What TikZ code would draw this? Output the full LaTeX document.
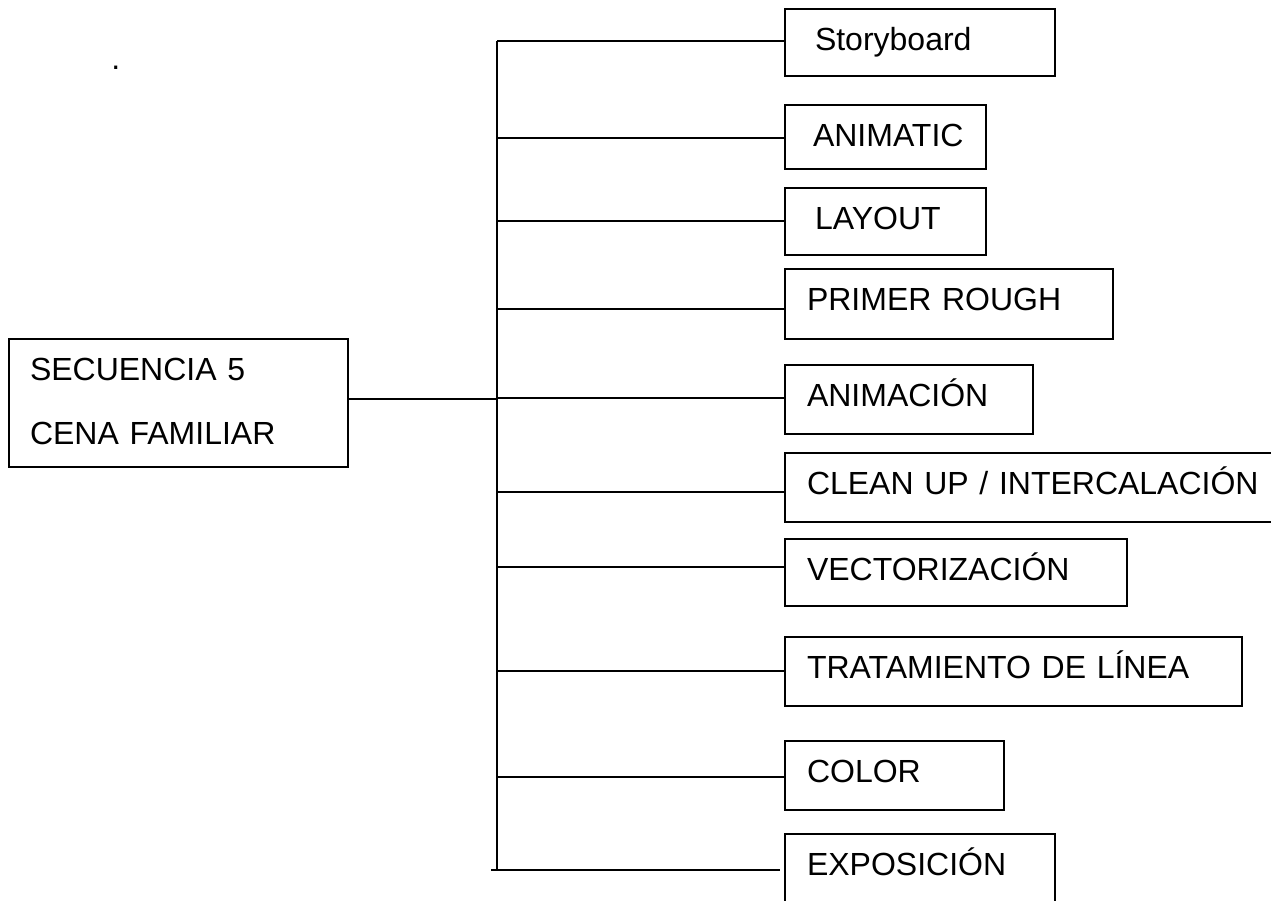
\documentclass[tikz,border=0pt]{standalone}
\usepackage{fontspec}
\setmainfont{Liberation Sans}
\begin{document}
\begin{tikzpicture}[x=0.75pt,y=-0.75pt,
  box/.style={draw, line width=1.4pt, anchor=north west, outer sep=0pt,
    inner ysep=0pt, align=left, text height=30.75pt,
    font=\fontsize{24}{48}\selectfont},
  link/.style={line width=1.4pt}]
\useasboundingbox (0,0) rectangle (1271,900);
\clip (0,0) rectangle (1271,900);

% stray dot
\node[anchor=base west, inner sep=0pt, font=\fontsize{24}{28}\selectfont] (dot) at (111,69) {.};

% left box
\node[box, inner xsep=15.75pt, text width=222.75pt, text depth=65.25pt] (seq) at (9,339) {SECUENCIA 5\\CENA FAMILIAR};

% stage boxes
\node[box, inner xsep=22.5pt, text width=157.5pt, text depth=19.5pt] (sb) at (785,9) {Storyboard};
\node[box, inner xsep=21pt, text width=108.75pt, text depth=17.25pt] (anc) at (785,105) {ANIMATIC};
\node[box, inner xsep=22.5pt, text width=105.75pt, text depth=19.5pt] (lay) at (785,188) {LAYOUT};
\node[box, inner xsep=16.5pt, text width=213pt, text depth=21.75pt] (pr) at (785,269) {PRIMER ROUGH};
\node[box, inner xsep=16.5pt, text width=153pt, text depth=21pt] (anim) at (785,365) {ANIMACIÓN};
\node[box, inner xsep=16.5pt, text width=345.75pt, text depth=21pt] (clean) at (785,453) {CLEAN UP / INTERCALACIÓN};
\node[box, inner xsep=16.5pt, text width=223.5pt, text depth=19.5pt] (vec) at (785,539) {VECTORIZACIÓN};
\node[box, inner xsep=16.5pt, text width=309.75pt, text depth=21pt] (trat) at (785,637) {TRATAMIENTO DE LÍNEA};
\node[box, inner xsep=16.5pt, text width=131.25pt, text depth=21pt] (col) at (785,741) {COLOR};
\node[box, inner xsep=16.5pt, text width=169.5pt, text depth=22.5pt] (expo) at (785,834) {EXPOSICIÓN};

% trunk points
\coordinate (t1) at (497,41);
\coordinate (t2) at (497,138);
\coordinate (t3) at (497,221);
\coordinate (t4) at (497,309);
\coordinate (t5) at (497,398);
\coordinate (t6) at (497,492);
\coordinate (t7) at (497,567);
\coordinate (t8) at (497,671);
\coordinate (t9) at (497,777);
\coordinate (t10) at (497,870);
\coordinate (j) at (497,399);
\coordinate (e1) at (491,870);
\coordinate (e2) at (780,870);

% trunk
\draw[link] (t1) -- (t10);
% from left box
\draw[link] (j -| seq.east) -- (j);
% branches
\draw[link] (t1) -- (t1 -| sb.west);
\draw[link] (t2) -- (t2 -| anc.west);
\draw[link] (t3) -- (t3 -| lay.west);
\draw[link] (t4) -- (t4 -| pr.west);
\draw[link] (t5) -- (t5 -| anim.west);
\draw[link] (t6) -- (t6 -| clean.west);
\draw[link] (t7) -- (t7 -| vec.west);
\draw[link] (t8) -- (t8 -| trat.west);
\draw[link] (t9) -- (t9 -| col.west);
\draw[link] (e1) -- (e2);
\end{tikzpicture}
\end{document}
